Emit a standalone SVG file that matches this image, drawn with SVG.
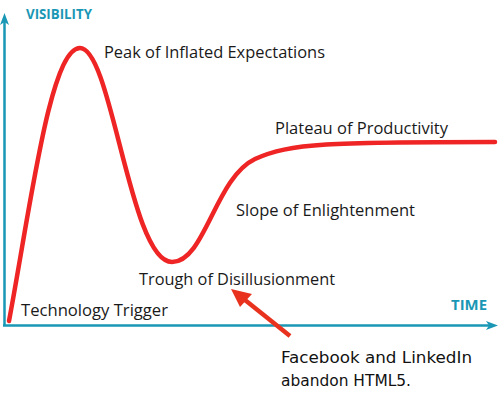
<svg xmlns="http://www.w3.org/2000/svg" width="500" height="393" viewBox="0 0 500 393">
<style>
.axis{stroke:#1a97b5;stroke-width:2.5;fill:none}
.axlab{font-family:"Open Sans","DejaVu Sans",sans-serif;font-weight:bold;font-size:13.5px;fill:#1a97b5}
.lab{font-family:"Open Sans","DejaVu Sans",sans-serif;font-size:16px;fill:#1a1a1a}
.note{font-family:"DejaVu Sans",Verdana,sans-serif;font-size:16px;fill:#111}
.curve{stroke:#ee2524;stroke-width:4.5;fill:none;stroke-linecap:round}
</style>
<g id="connectors">
<path class="axis" d="M4.5,326 L4.5,22"/>
<path d="M4.5,13 L9,25 L4.5,22 L0,25 Z" fill="#1a97b5"/>
<path class="axis" d="M3,325.5 L490,325.5"/>
<path d="M498,325.5 L486,321 L489,325.5 L486,330 Z" fill="#1a97b5"/>
<path class="curve" d="M9,321 C 30,210 50,48 80,48 C 112,48 130,262 172,262 C 205,262 215,178 255,159 C 290,143 330,142 495,142"/>
<path d="M290,336 L245,300" stroke="#e8321e" stroke-width="4.5" fill="none"/>
<path d="M231,289 L252,294 L240,307 Z" fill="#e8321e"/>
</g>
<g id="axis-labels">
<text class="axlab" x="26" y="19" textLength="66" lengthAdjust="spacingAndGlyphs">VISIBILITY</text>
<text class="axlab" x="451" y="310" textLength="36" lengthAdjust="spacingAndGlyphs">TIME</text>
</g>
<g id="peak"><text class="lab" x="104" y="58" textLength="221" lengthAdjust="spacingAndGlyphs">Peak of Inflated Expectations</text></g>
<g id="plateau"><text class="lab" x="275" y="134" textLength="173" lengthAdjust="spacingAndGlyphs">Plateau of Productivity</text></g>
<g id="slope"><text class="lab" x="236" y="216" textLength="179" lengthAdjust="spacingAndGlyphs">Slope of Enlightenment</text></g>
<g id="trough"><text class="lab" x="139" y="285" textLength="196" lengthAdjust="spacingAndGlyphs">Trough of Disillusionment</text></g>
<g id="trigger"><text class="lab" x="21" y="316" textLength="147" lengthAdjust="spacingAndGlyphs">Technology Trigger</text></g>
<g id="note">
<text class="note" x="281" y="363" textLength="191" lengthAdjust="spacingAndGlyphs">Facebook and LinkedIn</text>
<text class="note" x="281" y="386" textLength="130" lengthAdjust="spacingAndGlyphs">abandon HTML5.</text>
</g>
</svg>
